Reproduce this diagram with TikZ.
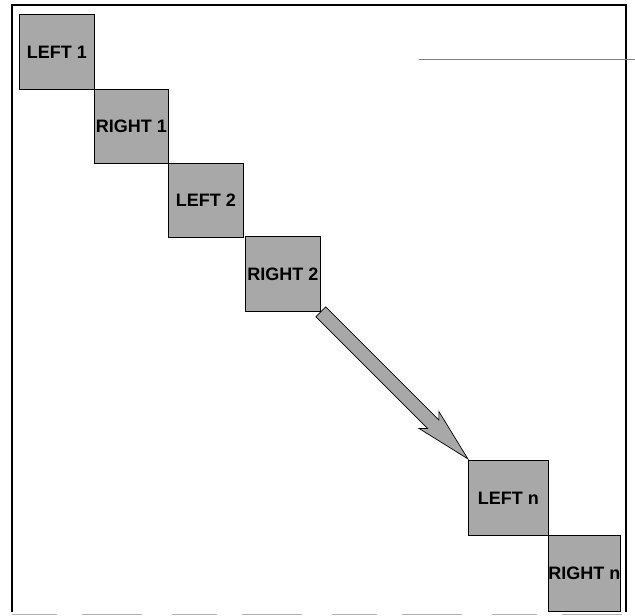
\documentclass[tikz,border=0pt]{standalone}
\usepackage{fontspec}
\setmainfont{Liberation Sans}
\begin{document}
\begin{tikzpicture}[x=1pt,y=-1pt,
  blk/.style={draw=black,line width=0.8pt,fill=boxgray,inner sep=0pt,anchor=north west,
    font=\fontsize{18}{18}\selectfont\bfseries},
  fatarrow/.style={draw=black,line width=0.7pt,fill=boxgray,line join=miter}]
\definecolor{boxgray}{gray}{0.66}
\useasboundingbox (0,0) rectangle (635,616);
% frame
\draw[line width=1.3pt] (12,612) -- (12,5) -- (626,5) -- (626,612);
\draw[line width=0.7pt,gray!60,dash pattern=on 45pt off 25pt on 60pt off 30pt] (12,614) -- (626,614);
\draw[line width=0.6pt,gray] (419,59) -- (635,59);
% boxes
\node[blk,minimum width=75pt,minimum height=75pt] (l1) at (19,14) {LEFT 1};
\node[blk,minimum width=74pt,minimum height=74pt] (r1) at (94,89) {RIGHT 1};
\node[blk,minimum width=75pt,minimum height=74pt] (l2) at (168,163) {LEFT 2};
\node[blk,minimum width=75pt,minimum height=75pt] (r2) at (245,236) {RIGHT 2};
\node[blk,minimum width=80pt,minimum height=75pt] (ln) at (468,460) {LEFT n};
\node[blk,minimum width=71pt,minimum height=76pt] (rn) at (548,535) {RIGHT n};
% fat arrow from RIGHT 2 to LEFT n
\begin{scope}[shift={(r2.south east)},rotate=-45]
\draw[fatarrow] (0,7) -- (158,7) -- (152,13) -- (208,0) -- (154,-13) -- (160,-7) -- (0,-7) -- cycle;
\end{scope}
\end{tikzpicture}
\end{document}
